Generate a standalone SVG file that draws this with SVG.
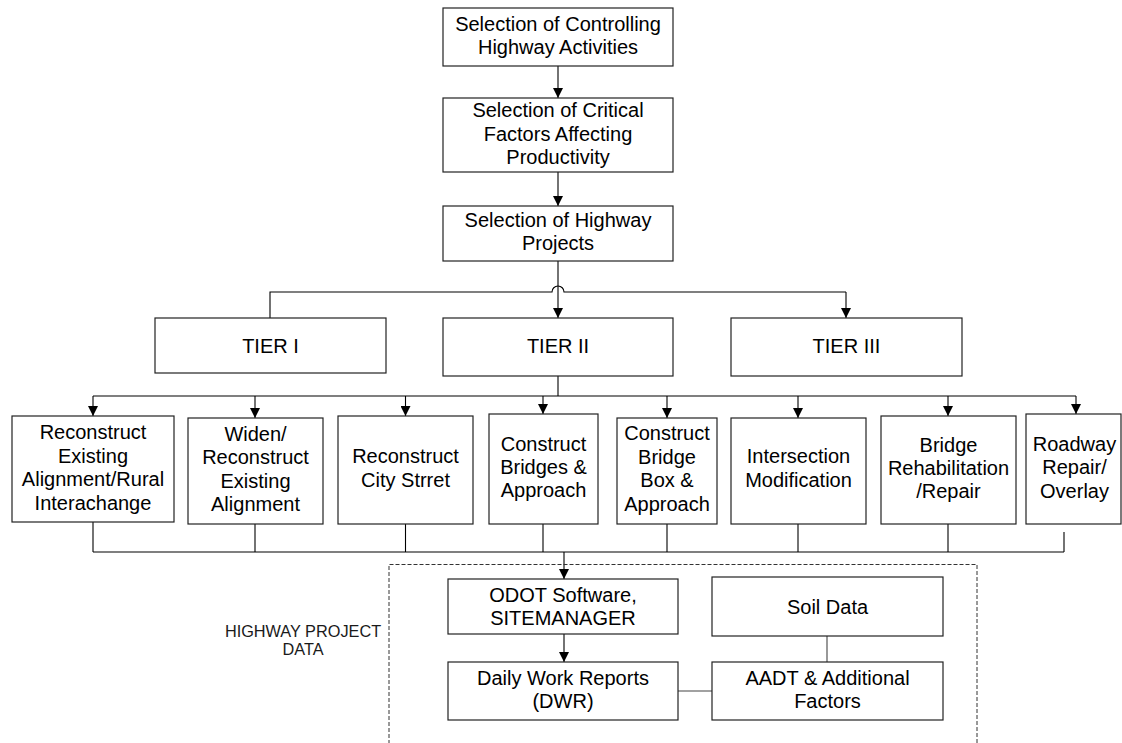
<svg xmlns="http://www.w3.org/2000/svg" width="1122" height="743" viewBox="0 0 1122 743">
  <style>
    .box { fill: #ffffff; stroke: #222222; stroke-width: 1.2; }
    .t { font-family: "Liberation Sans", Arial, sans-serif; font-size: 20px; fill: #000000; text-anchor: middle; }
    .lbl { font-family: "Liberation Sans", Arial, sans-serif; font-size: 16.3px; fill: #1a1a1a; text-anchor: middle; }
    .wire { fill: none; stroke: #000000; stroke-width: 1.1; }
    .arrow { fill: none; stroke: #000000; stroke-width: 1.1; marker-end: url(#head); }
    .soft { fill: none; stroke: #444444; stroke-width: 1.1; }
    .dash { fill: none; stroke: #333333; stroke-width: 1; stroke-dasharray: 4 2; }
  </style>
  <defs>
    <marker id="head" markerUnits="userSpaceOnUse" markerWidth="10" markerHeight="10" refX="10" refY="5" orient="auto">
      <path d="M0,0 L10,5 L0,10 z" fill="#000000"/>
    </marker>
  </defs>
  <rect width="1122" height="743" fill="#ffffff"/>

  <!-- connectors -->
  <g id="connectors">
    <line class="arrow" x1="558" y1="66" x2="558" y2="98"/>
    <line class="arrow" x1="558" y1="172" x2="558" y2="206"/>
    <line class="arrow" x1="558" y1="261" x2="558" y2="318"/>
    <!-- tier bus with a hop over the vertical -->
    <path class="wire" d="M270,318 V292 H552 A6,6 0 0 1 564,292 H846"/>
    <line class="arrow" x1="846" y1="292" x2="846" y2="318"/>

    <!-- Tier II to the eight project types -->
    <line class="wire" x1="558" y1="376" x2="558" y2="396"/>
    <line class="wire" x1="93" y1="396" x2="1076" y2="396"/>
    <line class="arrow" x1="93" y1="396" x2="93" y2="416"/>
    <line class="arrow" x1="255" y1="396" x2="255" y2="418"/>
    <line class="arrow" x1="405.5" y1="396" x2="405.5" y2="416"/>
    <line class="arrow" x1="543" y1="396" x2="543" y2="414"/>
    <line class="arrow" x1="667" y1="396" x2="667" y2="418"/>
    <line class="arrow" x1="798" y1="396" x2="798" y2="418"/>
    <line class="arrow" x1="948" y1="396" x2="948" y2="416"/>
    <line class="arrow" x1="1076" y1="396" x2="1076" y2="414"/>

    <!-- collector bus into the project data -->
    <line class="wire" x1="93" y1="522" x2="93" y2="552"/>
    <line class="wire" x1="255" y1="524" x2="255" y2="552"/>
    <line class="wire" x1="405.5" y1="524" x2="405.5" y2="552"/>
    <line class="wire" x1="543" y1="524" x2="543" y2="552"/>
    <line class="wire" x1="667" y1="524" x2="667" y2="552"/>
    <line class="wire" x1="798" y1="524" x2="798" y2="552"/>
    <line class="wire" x1="948" y1="524" x2="948" y2="552"/>
    <line class="wire" x1="1064" y1="532" x2="1064" y2="552"/>
    <line class="wire" x1="93" y1="552" x2="1064" y2="552"/>
    <line class="arrow" x1="564" y1="552" x2="564" y2="579"/>

    <line class="arrow" x1="564" y1="634" x2="564" y2="662"/>
    <line class="soft" x1="827" y1="636" x2="827" y2="662"/>
    <line class="soft" x1="678" y1="691" x2="712" y2="691"/>
  </g>

  <!-- highway project data frame -->
  <g id="project-data">
    <path class="dash" d="M389,750 V564.5 H977 V750"/>
    <text class="lbl" x="303" y="637">HIGHWAY PROJECT</text>
    <text class="lbl" x="303" y="655">DATA</text>
  </g>

  <g id="controlling-activities">
    <rect class="box" x="443" y="8" width="230" height="58"/>
    <text class="t" x="558" y="31">Selection of Controlling</text>
    <text class="t" x="558" y="54">Highway Activities</text>
  </g>
  <g id="critical-factors">
    <rect class="box" x="443" y="98" width="230" height="74"/>
    <text class="t" x="558" y="117">Selection of Critical</text>
    <text class="t" x="558" y="140.5">Factors Affecting</text>
    <text class="t" x="558" y="163.5">Productivity</text>
  </g>
  <g id="highway-projects">
    <rect class="box" x="443" y="206" width="230" height="55"/>
    <text class="t" x="558" y="227">Selection of Highway</text>
    <text class="t" x="558" y="250">Projects</text>
  </g>

  <g id="tier-1">
    <rect class="box" x="155" y="318" width="231" height="55"/>
    <text class="t" x="270.5" y="353">TIER I</text>
  </g>
  <g id="tier-2">
    <rect class="box" x="443" y="318" width="230" height="58"/>
    <text class="t" x="558" y="353">TIER II</text>
  </g>
  <g id="tier-3">
    <rect class="box" x="731" y="318" width="231" height="58"/>
    <text class="t" x="846.5" y="353">TIER III</text>
  </g>

  <g id="reconstruct-rural">
    <rect class="box" x="12" y="416" width="162" height="106"/>
    <text class="t" x="93" y="439">Reconstruct</text>
    <text class="t" x="93" y="463">Existing</text>
    <text class="t" x="93" y="486">Alignment/Rural</text>
    <text class="t" x="93" y="509.5">Interachange</text>
  </g>
  <g id="widen-reconstruct">
    <rect class="box" x="188" y="418" width="135" height="106"/>
    <text class="t" x="255.5" y="441">Widen/</text>
    <text class="t" x="255.5" y="464">Reconstruct</text>
    <text class="t" x="255.5" y="488">Existing</text>
    <text class="t" x="255.5" y="511">Alignment</text>
  </g>
  <g id="city-street">
    <rect class="box" x="338" y="416" width="135" height="108"/>
    <text class="t" x="405.5" y="463">Reconstruct</text>
    <text class="t" x="405.5" y="487">City Strret</text>
  </g>
  <g id="bridges-approach">
    <rect class="box" x="489" y="414" width="109" height="110"/>
    <text class="t" x="543.5" y="451">Construct</text>
    <text class="t" x="543.5" y="474">Bridges &amp;</text>
    <text class="t" x="543.5" y="497">Approach</text>
  </g>
  <g id="bridge-box">
    <rect class="box" x="617" y="418" width="100" height="106"/>
    <text class="t" x="667" y="440">Construct</text>
    <text class="t" x="667" y="464">Bridge</text>
    <text class="t" x="667" y="487">Box &amp;</text>
    <text class="t" x="667" y="511">Approach</text>
  </g>
  <g id="intersection">
    <rect class="box" x="731" y="418" width="135" height="106"/>
    <text class="t" x="798.5" y="463">Intersection</text>
    <text class="t" x="798.5" y="487">Modification</text>
  </g>
  <g id="bridge-rehab">
    <rect class="box" x="881" y="416" width="135" height="108"/>
    <text class="t" x="948.5" y="452">Bridge</text>
    <text class="t" x="948.5" y="475">Rehabilitation</text>
    <text class="t" x="948.5" y="498">/Repair</text>
  </g>
  <g id="roadway-repair">
    <rect class="box" x="1026" y="414" width="95" height="110"/>
    <text class="t" x="1074.5" y="451">Roadway</text>
    <text class="t" x="1074.5" y="474">Repair/</text>
    <text class="t" x="1074.5" y="498">Overlay</text>
  </g>

  <g id="odot-software">
    <rect class="box" x="448" y="579" width="230" height="55"/>
    <text class="t" x="563" y="602">ODOT Software,</text>
    <text class="t" x="563" y="625">SITEMANAGER</text>
  </g>
  <g id="soil-data">
    <rect class="box" x="712" y="577" width="231" height="59"/>
    <text class="t" x="827.5" y="613.5">Soil Data</text>
  </g>
  <g id="daily-work-reports">
    <rect class="box" x="448" y="662" width="230" height="58"/>
    <text class="t" x="563" y="685">Daily Work Reports</text>
    <text class="t" x="563" y="708">(DWR)</text>
  </g>
  <g id="aadt-factors">
    <rect class="box" x="712" y="662" width="231" height="58"/>
    <text class="t" x="827.5" y="685">AADT &amp; Additional</text>
    <text class="t" x="827.5" y="708">Factors</text>
  </g>
</svg>
